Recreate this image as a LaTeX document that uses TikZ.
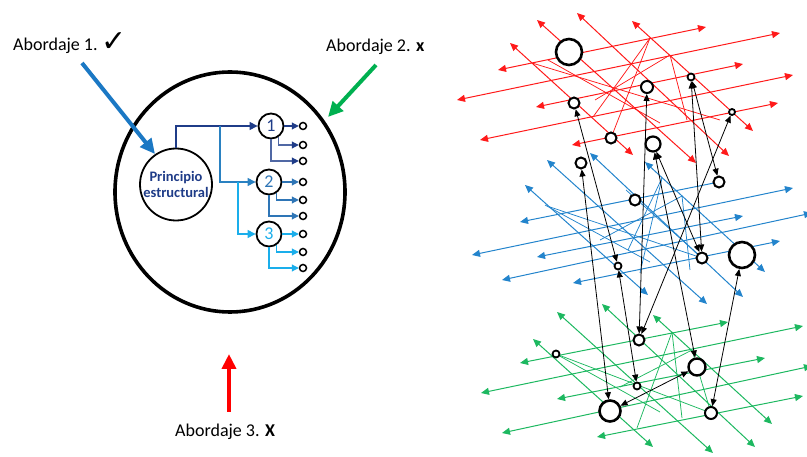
\documentclass[tikz,border=0pt]{standalone}
\usepackage{fontspec}
\setmainfont{Carlito}
\newfontfamily\symfont{DejaVu Sans}
\usetikzlibrary{arrows.meta}
\definecolor{navy}{HTML}{1F3C88}
\definecolor{slate}{HTML}{5068A4}
\definecolor{midblue}{HTML}{2E75B6}
\definecolor{skyblue}{HTML}{1AAEEB}
\definecolor{bigblue}{HTML}{1B78C4}
\definecolor{biggreen}{HTML}{00B050}
\definecolor{lred}{HTML}{FF1A1A}
\definecolor{lblue}{HTML}{2384CC}
\definecolor{lgreen}{HTML}{1DB860}
\begin{document}
\begin{tikzpicture}[x=1pt,y=-1pt,
  bigarrow/.style={line width=4pt,-{Triangle[length=15pt,width=14pt]}},
  lbl/.style={anchor=base west,inner sep=0pt,font=\fontsize{18}{20}\selectfont},
  ring/.style={circle,draw,fill=white,inner sep=0pt,line width=1.8pt},
  numring/.style={circle,draw,fill=white,inner sep=0pt,line width=1.8pt,minimum size=25pt,font=\fontsize{18}{18}\selectfont},
  outring/.style={circle,draw,fill=white,inner sep=0pt,line width=1.5pt,minimum size=7pt},
  tree/.style={line width=1.1pt,-{Triangle[length=8pt,width=8pt]}},
  outarr/.style={line width=1.1pt,-{Triangle[length=7pt,width=7pt]}},
  lay/.style={line width=1pt,{Triangle[length=8pt,width=7pt]}-{Triangle[length=8pt,width=7pt]}},
  layl/.style={line width=1pt,{Triangle[length=8pt,width=7pt]}-},
  web/.style={line width=0.75pt},
  blk/.style={black,line width=0.8pt,{Triangle[length=7pt,width=6pt]}-{Triangle[length=7pt,width=6pt]}},
  dot/.style={circle,draw,fill=white,inner sep=0pt,line width=#1},
  dot/.default=2pt]
\useasboundingbox (0,0) rectangle (807,457);

% ---------- left: the structural principle and its branches ----------
\draw[line width=3.6pt] (230,192) ellipse [x radius=115, y radius=120];

\node[ring,minimum size=72pt,align=center,text=navy,
      font=\bfseries\fontsize{14.5}{16.5}\selectfont] (P) at (176,184.5) {Principio\\estructural};
\node[numring,text=navy] (N1) at (271,126) {1};
\node[numring,text=midblue] (N2) at (269,182) {2};
\node[numring,text=skyblue] (N3) at (269,234) {3};

\coordinate (j1) at (220,126);
\coordinate (j2) at (238,182);
\draw[tree,navy] (P.north) |- (N1);
\draw[tree,midblue!80!skyblue] (j1) |- (N2);
\draw[tree,skyblue] (j2) |- (N3);

\foreach \k/\y/\c/\h in {1/126/slate/navy,2/182/midblue/midblue,3/234/skyblue/skyblue}{
  \pgfmathsetmacro{\ya}{\y}
  \pgfmathsetmacro{\yb}{\y+(\k==1 ? 19 : 18)}
  \pgfmathsetmacro{\yc}{\y+(\k==1 ? 35 : 34)}
  \node[outring] (o\k a) at (303,\ya) {};
  \node[outring] (o\k b) at (303,\yb) {};
  \node[outring] (o\k c) at (303,\yc) {};
  \draw[outarr,draw=\h,-{Triangle[length=7pt,width=7pt,color=\h]}] (N\k) -- (o\k a);
  \draw[outarr,draw=\c,-{Triangle[length=7pt,width=7pt,color=\h]}] (N\k.-58) |- (o\k b);
  \draw[outarr,draw=\c,-{Triangle[length=7pt,width=7pt,color=\h]}] (N\k.south) |- (o\k c);
}

% ---------- the three approaches ----------
\coordinate (a1s) at (82,63);   \coordinate (a1e) at (155,154);
\coordinate (a2s) at (376,65);  \coordinate (a2e) at (328,117);
\coordinate (a3s) at (229,412); \coordinate (a3e) at (229,354);
\draw[bigarrow,bigblue] (a1s) -- (a1e);
\draw[bigarrow,biggreen] (a2s) -- (a2e);
\draw[bigarrow,red] (a3s) -- (a3e);

\node[lbl] (t1) at (13,51) {Abordaje 1.\hspace{4pt}\raisebox{-1pt}{\symfont\fontsize{30}{30}\selectfont ✓}};
\node[lbl] (t2) at (326,52) {Abordaje 2. \textbf{x}};
\node[lbl] (t3) at (175,437) {Abordaje 3. \textbf{X}};

% ---------- right: three tangled layers ----------
% red layer
\begin{scope}[lred]
\draw[lay] (498,70) -- (706,27);
\draw[lay] (457,100) -- (780,33);
\draw[lay] (536,107) -- (743,64);
\draw[lay] (480,140) -- (793,75);
\draw[lay] (572,145) -- (778,103);
\draw[lay] (510,43) -- (633,155);
\draw[lay] (537,20) -- (696,163);
\draw[lay] (577,13) -- (729,156);
\draw[lay] (632,21) -- (753,131);
\draw[web] (532,63) -- (720,120);
\draw[web] (548,60) -- (660,123);
\draw[web] (650,38) -- (611,138);
\draw[web] (650,38) -- (593,117);
\draw[web] (670,55) -- (595,100);
\draw[web] (670,55) -- (687,120);
\end{scope}

% blue layer
\begin{scope}[lblue]
\draw[layl] (520,222) -- (719,182);
\draw[lay] (472,255) -- (793,188);
\draw[lay] (537,257) -- (743,216);
\draw[lay] (502,280) -- (812,213);
\draw[lay] (573,283) -- (780,241);
\draw[lay] (525,185) -- (648,295);
\draw[lay] (547,160) -- (707,304);
\draw[lay] (590,153) -- (743,297);
\draw[lay] (645,162) -- (765,272);
\draw[web] (550,207) -- (702,258);
\draw[web] (545,205) -- (650,262);
\draw[web] (662,178) -- (640,273);
\draw[web] (662,178) -- (628,250);
\draw[web] (682,196) -- (690,270);
\draw[web] (682,196) -- (600,240);
\draw[web] (626,190) -- (700,256);
\end{scope}

% green layer
\begin{scope}[lgreen]
\draw[lay] (520,363) -- (728,322);
\draw[lay] (481,393) -- (803,326);
\draw[lay] (557,399) -- (765,358);
\draw[lay] (502,433) -- (812,366);
\draw[lay] (597,437) -- (803,396);
\draw[lay] (533,339) -- (653,447);
\draw[lay] (557,312) -- (713,453);
\draw[lay] (602,304) -- (755,447);
\draw[lay] (653,315) -- (772,424);
\draw[web] (556,354) -- (711,413);
\draw[web] (556,354) -- (660,412);
\draw[web] (672,332) -- (637,428);
\draw[web] (672,332) -- (682,418);
\draw[web] (692,350) -- (620,387);
\draw[web] (692,350) -- (711,413);
\end{scope}

% elements of each layer
\node[dot=2.6pt,minimum size=26pt] (R1) at (569,52) {};
\node[dot,minimum size=11pt] (R2) at (574,103) {};
\node[dot,minimum size=11pt] (R3) at (611,138) {};
\node[dot,minimum size=12pt] (R4) at (647,87) {};
\node[dot=2.2pt,minimum size=15pt] (R5) at (653,144) {};
\node[dot=1.8pt,minimum size=7pt] (R6) at (691,77) {};
\node[dot=1.8pt,minimum size=6pt] (R7) at (732,112) {};

\node[dot,minimum size=11pt] (B1) at (581,163) {};
\node[dot,minimum size=11pt] (B2) at (635,200) {};
\node[dot,minimum size=11pt] (B3) at (719,182) {};
\node[dot=1.8pt,minimum size=7pt] (B4) at (618,266) {};
\node[dot,minimum size=11pt] (B5) at (702,258) {};
\node[dot=2.6pt,minimum size=26pt] (B6) at (742,255) {};

\node[dot=1.8pt,minimum size=7pt] (G1) at (556,354) {};
\node[dot,minimum size=11pt] (G2) at (639,340) {};
\node[dot=2.4pt,minimum size=17pt] (G3) at (697,367) {};
\node[dot=1.8pt,minimum size=7pt] (G4) at (637,386) {};
\node[dot=2.6pt,minimum size=21pt] (G5) at (610,411) {};
\node[dot,minimum size=12pt] (G6) at (711,413) {};

% links between layers
\draw[blk] (R2) -- (B4);
\draw[blk] (R4) -- (G2);
\draw[blk] (R5) -- (B5);
\draw[blk] (R5) -- (G3);
\draw[blk] (R6) -- (B5);
\draw[blk] (R6) -- (B3);
\draw[blk] (R7) -- (G2);
\draw[blk] (B1) -- (G5);
\draw[blk] (B4) -- (G4);
\draw[blk] (B6) -- (G6);
\draw[blk] (G5) -- (G3);
\end{tikzpicture}
\end{document}
